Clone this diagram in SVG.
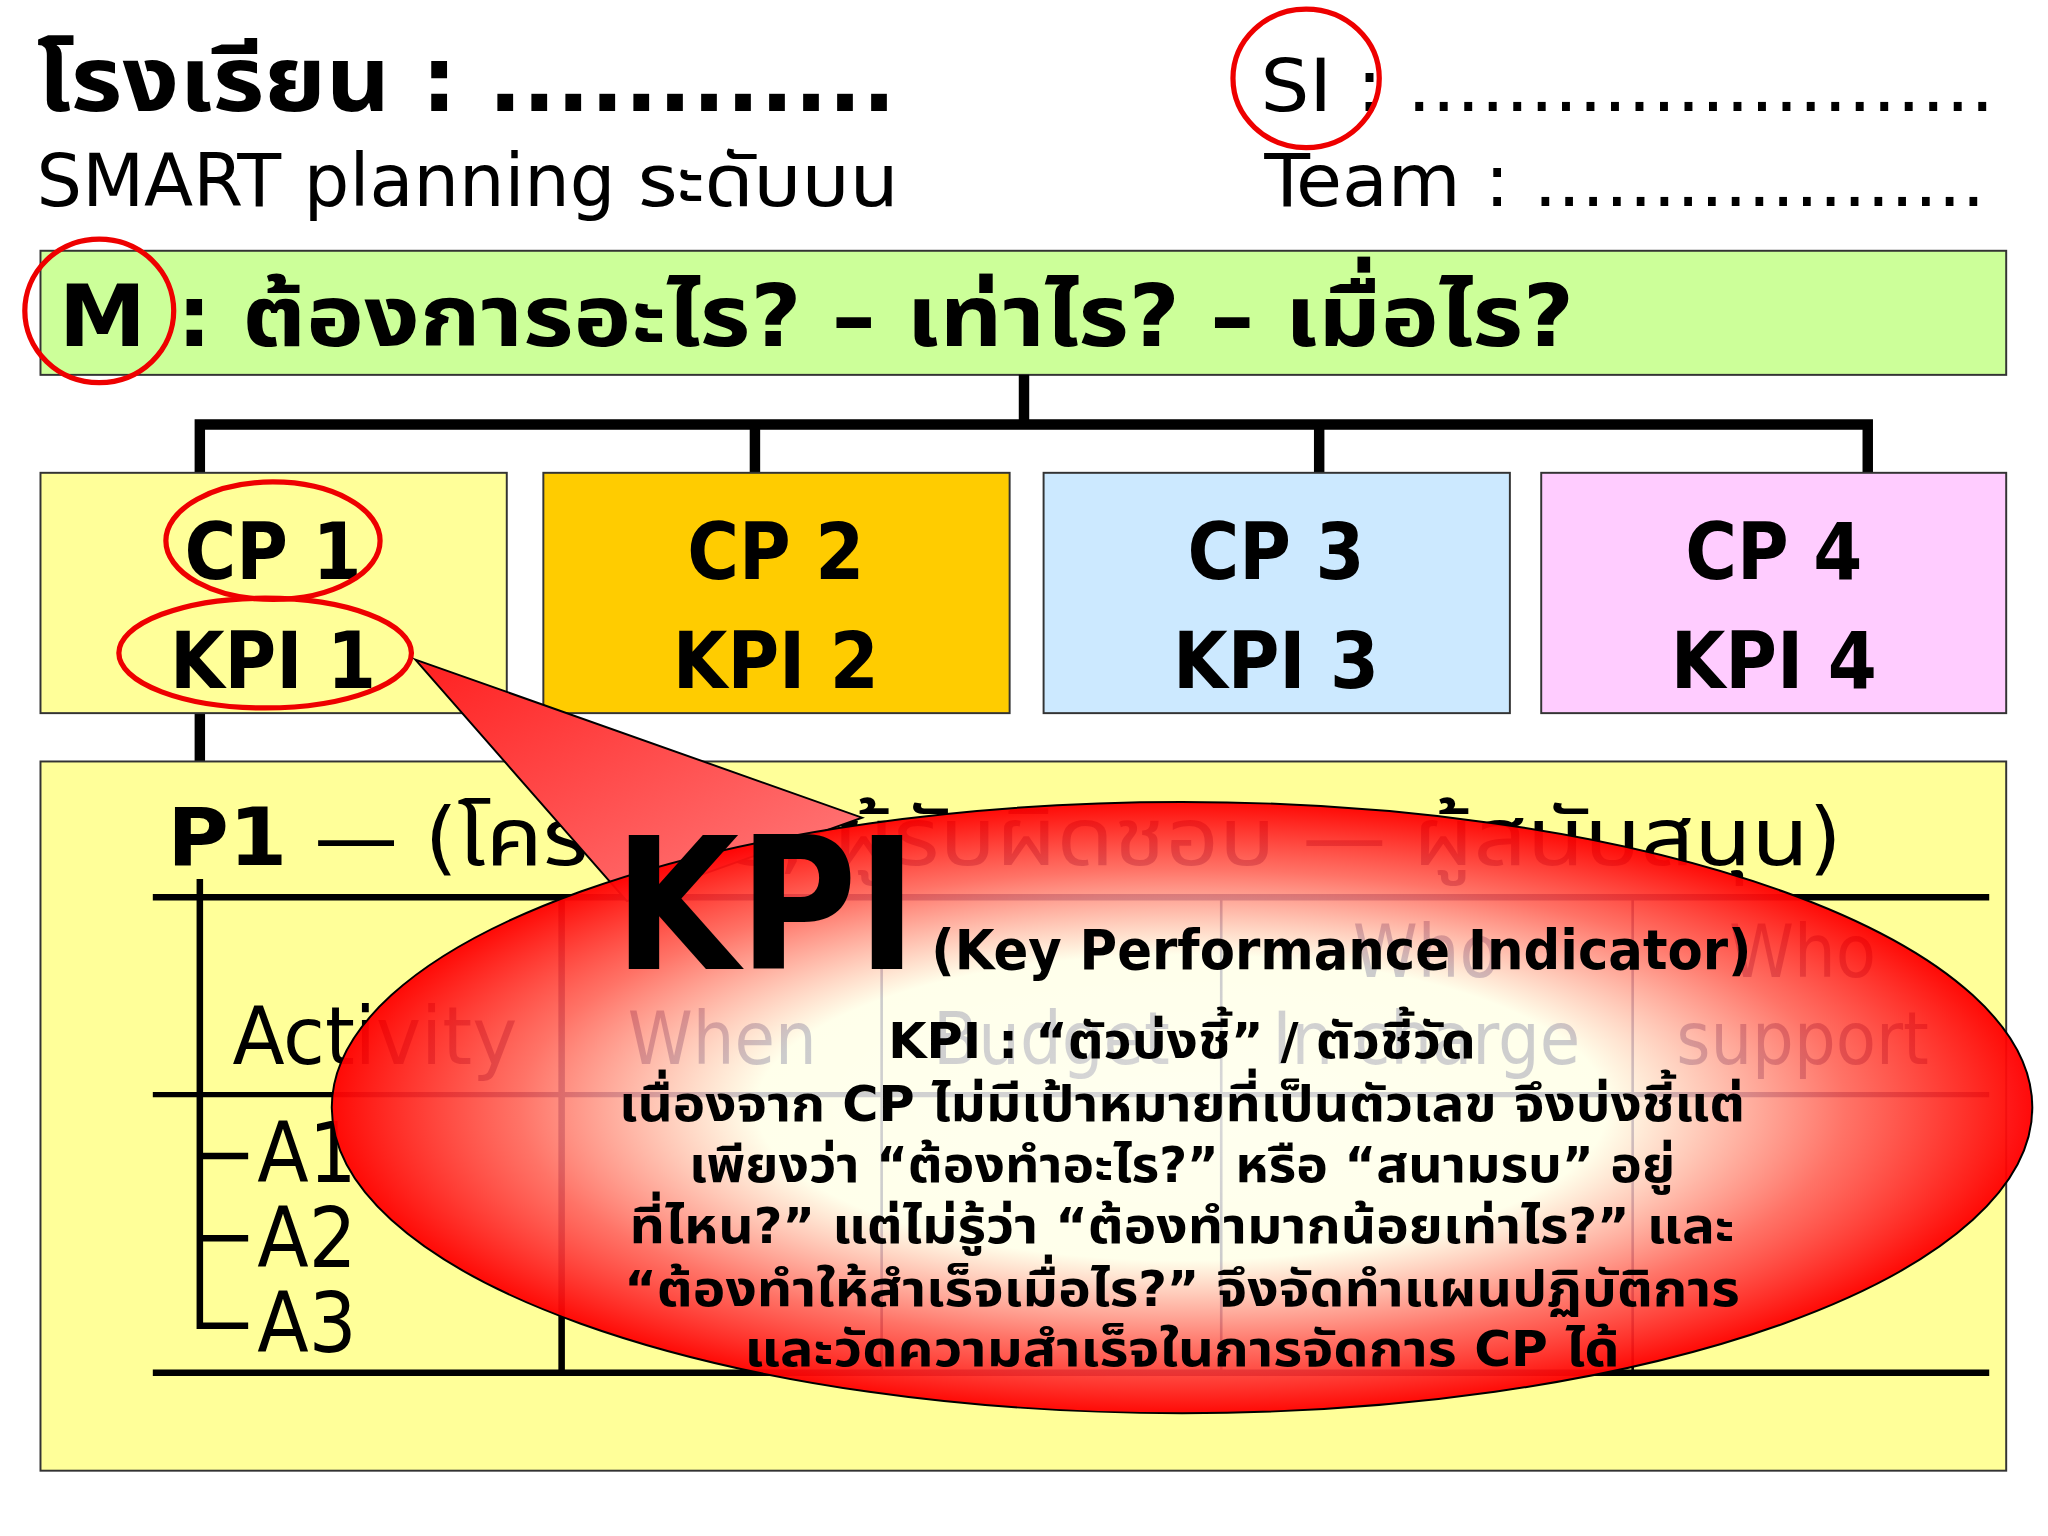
<svg xmlns="http://www.w3.org/2000/svg" width="2048" height="1536" viewBox="0 0 2048 1536">
<style>
text{font-family:Tahoma,"DejaVu Sans Condensed","Liberation Sans","Noto Sans","Noto Sans Thai",sans-serif;fill:#000}
.b{font-weight:bold}
.ln{stroke:#000;fill:none}
.red{fill:none;stroke:#e00;stroke-width:4}
.box{stroke:#333;stroke-width:1.5}
.c{text-anchor:middle}
.f{fill:#000}
</style>
<defs>
<radialGradient id="rg" cx="0.5" cy="0.5" r="0.5">
<stop offset="0" stop-color="#fff" stop-opacity="0.85"/>
<stop offset="0.5" stop-color="#fff" stop-opacity="0.8"/>
<stop offset="0.78" stop-color="#ff6060" stop-opacity="0.88"/>
<stop offset="1" stop-color="#ff0000" stop-opacity="0.96"/>
</radialGradient>
<linearGradient id="tg" x1="0" y1="0" x2="1" y2="1">
<stop offset="0" stop-color="#ff2020"/>
<stop offset="1" stop-color="#ff8080"/>
</linearGradient>
</defs>
<rect width="2048" height="1536" fill="#fff"/>
<g transform="scale(1.30612)">
<g id="header">
<text x="28" y="85" class="b" font-size="70" textLength="658" lengthAdjust="spacingAndGlyphs">โรงเรียน : ............</text>
<text x="28" y="158" font-size="56" textLength="660" lengthAdjust="spacingAndGlyphs">SMART planning ระดับบน</text>
<text x="965" y="85" font-size="56" textLength="562" lengthAdjust="spacingAndGlyphs">SI : ........................</text>
<text x="968" y="158" font-size="56" textLength="552" lengthAdjust="spacingAndGlyphs">Team : ...................</text>
<ellipse class="red" cx="1000" cy="60" rx="56" ry="53"/>
</g>
<g id="M">
<rect class="box" x="31" y="192" width="1505" height="95" fill="#ccff99"/>
<text x="45" y="265" class="b" font-size="66" textLength="1160" lengthAdjust="spacingAndGlyphs">M : ต้องการอะไร? – เท่าไร? – เมื่อไร?</text>
<ellipse class="red" cx="76" cy="238" rx="57" ry="55"/>
</g>
<g id="connectors">
<path class="ln" stroke-width="8" d="M784 287V325M153 325H1430M153 321V362M578 321V362M1010 321V362M1430 321V362M153 546V583"/>
</g>
<g id="CP1">
<rect class="box" x="31" y="362" width="357" height="184" fill="#ffff99"/>
<text x="209" y="443" class="b c" font-size="60">CP 1</text>
<text x="209" y="527" class="b c" font-size="60">KPI 1</text>
<ellipse class="red" cx="209" cy="414" rx="82" ry="45"/>
<ellipse class="red" cx="203" cy="500" rx="112" ry="42"/>
</g>
<g id="CP2">
<rect class="box" x="416" y="362" width="357" height="184" fill="#ffcc00"/>
<text x="594" y="443" class="b c" font-size="60">CP 2</text>
<text x="594" y="527" class="b c" font-size="60">KPI 2</text>
</g>
<g id="CP3">
<rect class="box" x="799" y="362" width="357" height="184" fill="#cce9ff"/>
<text x="977" y="443" class="b c" font-size="60">CP 3</text>
<text x="977" y="527" class="b c" font-size="60">KPI 3</text>
</g>
<g id="CP4">
<rect class="box" x="1180" y="362" width="356" height="184" fill="#ffccff"/>
<text x="1358" y="443" class="b c" font-size="60">CP 4</text>
<text x="1358" y="527" class="b c" font-size="60">KPI 4</text>
</g>
<g id="P1">
<rect class="box" x="31" y="583" width="1505" height="543" fill="#ffff99"/>
<text x="128" y="662" font-size="62" textLength="1282" lengthAdjust="spacingAndGlyphs"><tspan class="b">P1</tspan> — (โครงการ; ผู้รับผิดชอบ — ผู้สนับสนุน)</text>
<path class="ln" stroke-width="5" d="M117 687H1523M117 1051H1523M153 673V1015H190M153 885H190M153 948H190M430 687V1051"/>
<path class="ln" stroke-width="4" d="M117 838H1523"/>
<path class="ln" stroke-width="2" stroke="#888" d="M675 687V1051M935 687V1051M1250 687V1051"/>
<text x="178" y="815" font-size="62" textLength="218" lengthAdjust="spacingAndGlyphs">Activity</text>
<text x="197" y="905" font-size="64">A1</text>
<text x="197" y="970" font-size="64">A2</text>
<text x="197" y="1035" font-size="64">A3</text>
<text x="553" y="815" class="c" font-size="56">When</text>
<text x="805" y="815" class="c" font-size="56">Budget</text>
<text x="1092" y="748" class="c" font-size="56">Who</text>
<text x="1092" y="815" class="c" font-size="56">In charge</text>
<text x="1380" y="748" class="c" font-size="56">Who</text>
<text x="1380" y="815" class="c" font-size="56">support</text>
</g>
<g id="callout">
<path d="M318 505L480 690L660 626Z" fill="url(#tg)" stroke="#000" stroke-width="1.5"/>
<ellipse cx="905" cy="848" rx="651" ry="234" fill="url(#rg)" stroke="#000" stroke-width="1.5"/>
<text x="470" y="742" class="b" font-size="140" textLength="232" lengthAdjust="spacingAndGlyphs">KPI</text>
<text x="713" y="742" class="b" font-size="42" textLength="628" lengthAdjust="spacingAndGlyphs">(Key Performance Indicator)</text>
<g class="b c" font-size="38">
<text x="905" y="810" textLength="450" lengthAdjust="spacingAndGlyphs">KPI : “ตัวบ่งชี้” / ตัวชี้วัด</text>
<text x="905" y="858" textLength="862" lengthAdjust="spacingAndGlyphs">เนื่องจาก CP ไม่มีเป้าหมายที่เป็นตัวเลข จึงบ่งชี้แต่</text>
<text x="905" y="905" textLength="755" lengthAdjust="spacingAndGlyphs">เพียงว่า “ต้องทำอะไร?” หรือ “สนามรบ” อยู่</text>
<text x="905" y="952" textLength="846" lengthAdjust="spacingAndGlyphs">ที่ไหน?” แต่ไม่รู้ว่า “ต้องทำมากน้อยเท่าไร?” และ</text>
<text x="905" y="1000" textLength="854" lengthAdjust="spacingAndGlyphs">“ต้องทำให้สำเร็จเมื่อไร?” จึงจัดทำแผนปฏิบัติการ</text>
<text x="905" y="1046" textLength="670" lengthAdjust="spacingAndGlyphs">และวัดความสำเร็จในการจัดการ CP ได้</text>
</g>
</g>
</g>
</svg>
